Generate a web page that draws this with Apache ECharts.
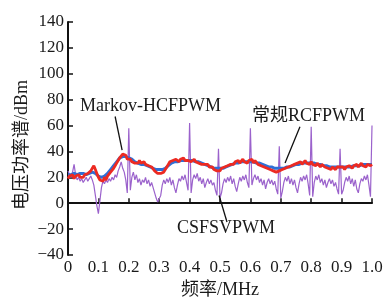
<!DOCTYPE html>
<html>
<head>
<meta charset="utf-8">
<script src="https://cdn.jsdelivr.net/npm/echarts@6/dist/echarts.min.js"></script>
<style>
  html, body { margin: 0; padding: 0; background: #fff; }
  #chart { width: 386px; height: 298px; }
</style>
</head>
<body>
<div id="chart"></div>
<script>
// x ticks 0 .. 1.0 MHz
const xTicks = [0, 0.1, 0.2, 0.3, 0.4, 0.5, 0.6, 0.7, 0.8, 0.9, 1.0]

// 常规RCFPWM (blue), sampled every 0.01 MHz
const blueStep = 0.01
const blueVals = [
  22, 22, 23, 22, 23, 23, 22, 23, 24, 23,
  21, 20, 21, 23, 26, 29, 32, 35, 36, 36,
  35, 34, 32, 31, 30, 30, 29, 28, 27, 26,
  26, 26, 27, 29, 31, 32, 32, 33, 33, 33,
  33, 33, 32, 32, 31, 30, 29, 28, 27, 27,
  27, 27, 28, 29, 30, 31, 31, 32, 32, 32,
  32, 32, 31, 31, 30, 29, 28, 28, 27, 27,
  27, 27, 28, 28, 29, 30, 30, 31, 31, 31,
  31, 31, 30, 30, 29, 29, 28, 28, 28, 28,
  28, 28, 28, 28, 29, 29, 29, 30, 30, 30,
  30
]

// Markov-HCFPWM (red), sampled every 0.005 MHz
const redStep = 0.005
const redVals = [
  19, 21, 20, 22, 19, 21, 20, 22, 20, 21,
  20, 22, 21, 23, 22, 25, 27, 29, 26, 23,
  20, 18, 19, 17, 20, 18, 21, 22, 24, 25,
  27, 29, 31, 33, 35, 36, 38, 39, 37, 34,
  33, 34, 32, 33, 31, 32, 31, 33, 31, 32,
  32, 30, 31, 29, 30, 28, 27, 25, 24, 23,
  22, 23, 22, 24, 26, 28, 30, 32, 31, 33,
  32, 34, 33, 32, 34, 33, 35, 33, 34, 33,
  34, 32, 33, 34, 32, 33, 31, 32, 30, 31,
  30, 29, 30, 28, 27, 28, 26, 27, 25, 26,
  25, 27, 26, 28, 27, 29, 28, 30, 31, 30,
  32, 31, 33, 31, 32, 34, 32, 33, 31, 33,
  32, 34, 31, 33, 32, 30, 31, 29, 30, 28,
  29, 27, 28, 26, 27, 25, 26, 24, 25, 25,
  24, 26, 25, 27, 26, 28, 27, 29, 28, 30,
  29, 31, 30, 32, 30, 31, 33, 31, 32, 30,
  32, 30, 31, 29, 31, 30, 28, 30, 29, 28,
  29, 27, 28, 26, 28, 27, 26, 28, 27, 28,
  27, 28, 26, 28, 27, 29, 28, 27, 29, 28,
  30, 28, 29, 31, 29, 30, 28, 30, 31, 29,
  30
]

// CSFSVPWM (purple), sampled every 0.005 MHz
const purpleStep = 0.005
const purpleVals = [
  25, 22, 20, 24, 30, 22, 18, 20, 17, 19,
  16, 18, 20, 17, 19, 21, 18, 14, 6, -2,
  -8, 2, 12, 17, 15, 18, 16, 19, 17, 20,
  18, 22, 20, 25, 28, 32, 27, 24, 18, 8,
  58, 10, 20, 24, 18, 22, 16, 19, 14, 18,
  16, 20, 15, 18, 13, 16, 12, 8, 4, 1,
  0, 6, 14, 18, 15, 19, 16, 20, 14, 18,
  12, 8, 14, 19, 17, 21, 18, 22, 16, 10,
  62, 8, 18, 22, 19, 23, 17, 20, 15, 19,
  12, 16, 19, 15, 18, 14, 16, 10, 6, 42,
  4, 8, 15, 19, 16, 20, 17, 21, 15, 19,
  13, 9, 15, 20, 17, 21, 18, 22, 16, 12,
  58, 14, 19, 22, 18, 21, 16, 19, 14, 18,
  11, 16, 19, 15, 18, 14, 17, 11, 7, 44,
  4, 9, 16, 20, 17, 21, 15, 19, 14, 18,
  12, 8, 15, 20, 17, 21, 18, 22, 15, 6,
  59, 5, 16, 21, 18, 22, 16, 19, 14, 18,
  12, 16, 19, 15, 18, 13, 16, 11, 7, 42,
  7, 10, 16, 20, 17, 21, 15, 19, 13, 18,
  11, 8, 15, 19, 17, 21, 18, 22, 14, 5,
  60
]

const toPairs = (vals, step) => vals.map((v, i) => [+(i * step).toFixed(3), v])

const serif = '"Liberation Serif", "DejaVu Serif", serif'
const cjk = '"Liberation Serif", "Noto Sans CJK SC", serif'

const chart = echarts.init(document.getElementById('chart'), null, { renderer: 'canvas' })

const leader = (a, b) => [{ coord: a }, { coord: b }]

const option = {
  backgroundColor: '#fff',
  animation: false,
  grid: { left: 68, right: 14, top: 22, bottom: 43, outerBoundsMode: 'none' },
  xAxis: {
    type: 'value',
    min: 0,
    max: 1,
    interval: 0.1,
    name: '频率/MHz',
    nameLocation: 'middle',
    nameGap: 24,
    nameTextStyle: { fontFamily: cjk, fontSize: 18, color: '#1a1a1a' },
    axisLine: { lineStyle: { color: '#111', width: 2 } },
    axisTick: { inside: true, length: 5, lineStyle: { color: '#111', width: 1.5 } },
    axisLabel: {
      margin: 4,
      fontFamily: serif,
      fontSize: 17,
      color: '#1a1a1a',
      formatter: v => (v === 0 ? '0' : v.toFixed(1))
    },
    splitLine: { show: false }
  },
  yAxis: {
    type: 'value',
    min: -40,
    max: 140,
    interval: 20,
    axisLine: { show: true, lineStyle: { color: '#111', width: 2 } },
    axisTick: { show: true, inside: true, length: 5, lineStyle: { color: '#111', width: 1.5 } },
    axisLabel: {
      margin: 4,
      fontFamily: serif,
      fontSize: 17,
      color: '#1a1a1a',
      formatter: v => (v < 0 ? '\u2212' + Math.abs(v) : '' + v)
    },
    splitLine: { show: false }
  },
  series: [
    {
      name: 'CSFSVPWM',
      type: 'line',
      data: toPairs(purpleVals, purpleStep),
      showSymbol: false,
      lineStyle: { color: '#9b62cc', width: 1.2 },
      z: 2,
      markLine: {
        silent: true,
        symbol: 'none',
        lineStyle: { color: '#111', width: 1.3, type: 'solid' },
        label: { show: false },
        data: [leader([0.497, 6], [0.523, -14.5])]
      }
    },
    {
      name: '常规RCFPWM',
      type: 'line',
      data: toPairs(blueVals, blueStep),
      showSymbol: false,
      lineStyle: { color: '#2f6fd6', width: 3 },
      z: 3
    },
    {
      name: 'Markov-HCFPWM',
      type: 'line',
      data: toPairs(redVals, redStep),
      showSymbol: false,
      lineStyle: { color: '#ec2a22', width: 2.8 },
      z: 4,
      markLine: {
        silent: true,
        symbol: 'none',
        lineStyle: { color: '#111', width: 1.3, type: 'solid' },
        label: { show: false },
        data: [
          leader([0.155, 67], [0.178, 41]),
          leader([0.763, 59], [0.714, 31])
        ]
      }
    }
  ],
  graphic: [
    {
      type: 'text', x: 22, y: 145, rotation: Math.PI / 2,
      style: { text: '电压功率谱/dBm', font: '18px ' + cjk, fill: '#1a1a1a', align: 'center', verticalAlign: 'middle' }
    },
    { type: 'text', left: 80, top: 97, style: { text: 'Markov-HCFPWM', font: '18px ' + serif, fill: '#1a1a1a' } },
    { type: 'text', left: 252, top: 107, style: { text: '常规RCFPWM', font: '18px ' + cjk, fill: '#1a1a1a' } },
    { type: 'text', left: 177, top: 219, style: { text: 'CSFSVPWM', font: '18px ' + serif, fill: '#1a1a1a' } }
  ]
}

chart.setOption(option)
</script>
</body>
</html>
